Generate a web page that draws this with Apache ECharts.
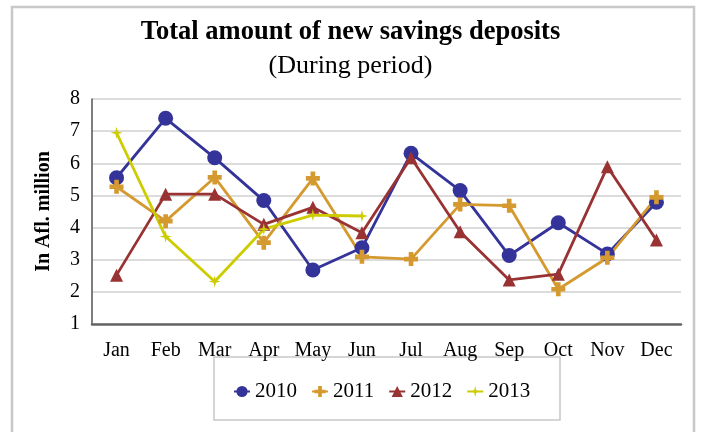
<!DOCTYPE html>
<html>
<head>
<meta charset="utf-8">
<script src="https://cdn.jsdelivr.net/npm/echarts@6/dist/echarts.min.js"></script>
<style>
  html, body { margin: 0; padding: 0; background: #fff; }
  #chart { width: 701px; height: 432px; }
</style>
</head>
<body>
<div id="chart"></div>
<script>
// Months on the category axis
const months = ['Jan', 'Feb', 'Mar', 'Apr', 'May', 'Jun', 'Jul', 'Aug', 'Sep', 'Oct', 'Nov', 'Dec'];

// New savings deposits per month, in Afl. million
const deposits2010 = [5.55, 7.40, 6.17, 4.84, 2.68, 3.37, 6.31, 5.15, 3.13, 4.15, 3.18, 4.79];
const deposits2011 = [5.27, 4.20, 5.56, 3.53, 5.53, 3.09, 3.02, 4.72, 4.68, 2.08, 3.06, 4.94];
const deposits2012 = [2.52, 5.04, 5.04, 4.10, 4.63, 3.84, 6.17, 3.87, 2.37, 2.55, 5.89, 3.61];
const deposits2013 = [6.95, 3.72, 2.32, 3.95, 4.39, 4.36];

const seriesNames = ['2010', '2011', '2012', '2013'];
const colors = ['#333399', '#D4992F', '#993333', '#CCCC00'];

const serif = '"Liberation Serif", "Times New Roman", serif';
const plusPath = 'path://M-1,-3H1V-1H3V1H1V3H-1V1H-3V-1H-1Z';
const starPath = 'path://M0,-5L1,-1L5,0L1,1L0,5L-1,1L-5,0L-1,-1Z';

function lineSeries(name, data, color, symbol, size) {
  return {
    name: name,
    type: 'line',
    data: data,
    symbol: symbol,
    symbolSize: size,
    showAllSymbol: true,
    lineStyle: { color: color, width: 2.8 },
    itemStyle: { color: color },
    emphasis: { disabled: true },
    z: 3
  };
}

const chart = echarts.init(document.getElementById('chart'), null, { renderer: 'canvas' });
chart.setOption({
  animation: false,
  backgroundColor: '#fff',
  color: colors,
  title: [
    {
      text: 'Total amount of new savings deposits',
      left: 'center',
      top: 14,
      textStyle: { fontFamily: serif, fontSize: 26.5, fontWeight: 'bold', color: '#000' }
    },
    {
      text: '(During period)',
      left: 'center',
      top: 48,
      textStyle: { fontFamily: serif, fontSize: 26, fontWeight: 'normal', color: '#000' }
    }
  ],
  graphic: [
    {
      type: 'rect',
      shape: { x: 12, y: 7, width: 682, height: 440 },
      style: { fill: 'none', stroke: '#c8c8c8', lineWidth: 2.5 },
      silent: true,
      z: -1
    },
    {
      type: 'rect',
      shape: { x: 214, y: 357, width: 346, height: 63 },
      style: { fill: 'none', stroke: '#c8c8c8', lineWidth: 1.5 },
      silent: true,
      z: -1
    }
  ],
  legend: {
    data: seriesNames,
    top: 376,
    left: 228,
    itemWidth: 16,
    itemHeight: 14,
    itemGap: 14,
    textStyle: { fontFamily: serif, fontSize: 21, color: '#000' },
    z: 5
  },
  grid: { left: 92, right: 20, top: 99, bottom: 108 },
  xAxis: {
    type: 'category',
    data: months,
    boundaryGap: true,
    axisLine: { lineStyle: { color: '#666', width: 2.5 } },
    axisTick: { show: false },
    axisLabel: { fontFamily: serif, fontSize: 20, color: '#000', margin: 17 }
  },
  yAxis: {
    type: 'value',
    min: 1,
    max: 8,
    interval: 1,
    name: 'In Afl. million',
    nameLocation: 'middle',
    nameGap: 38,
    nameRotate: 90,
    nameTextStyle: { fontFamily: serif, fontSize: 20, fontWeight: 'bold', color: '#000' },
    axisLine: { show: true, lineStyle: { color: '#555', width: 1.5 } },
    axisTick: { show: false },
    axisLabel: { fontFamily: serif, fontSize: 20, color: '#000', margin: 12 },
    splitLine: { lineStyle: { color: '#d0d0d0', width: 1.5 } }
  },
  series: [
    lineSeries('2010', deposits2010, colors[0], 'circle', 15),
    lineSeries('2011', deposits2011, colors[1], plusPath, 14),
    lineSeries('2012', deposits2012, colors[2], 'triangle', 13),
    lineSeries('2013', deposits2013, colors[3], starPath, 12)
  ]
});
</script>
</body>
</html>
